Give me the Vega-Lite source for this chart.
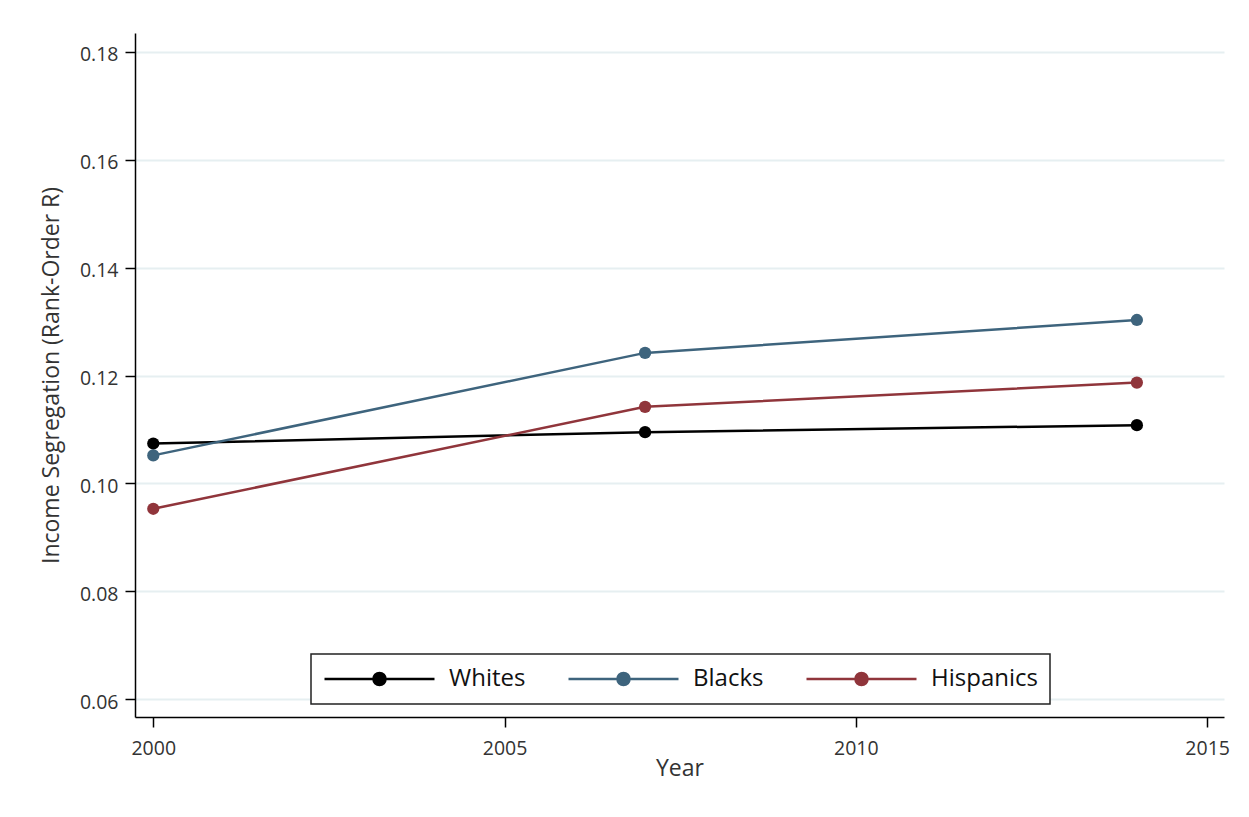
{
  "$schema": "https://vega.github.io/schema/vega-lite/v6.json",
  "width": 1089,
  "height": 684,
  "autosize": "none",
  "padding": {"left": 135, "top": 33, "right": 25, "bottom": 100},
  "background": "white",
  "config": {"font": "Open Sans", "view": {"stroke": null}},
  "data": {
    "values": [
      {"year": 2000, "group": "Whites", "value": 0.1074},
      {"year": 2007, "group": "Whites", "value": 0.1095},
      {"year": 2014, "group": "Whites", "value": 0.1108},
      {"year": 2000, "group": "Blacks", "value": 0.1052},
      {"year": 2007, "group": "Blacks", "value": 0.1242},
      {"year": 2014, "group": "Blacks", "value": 0.1303},
      {"year": 2000, "group": "Hispanics", "value": 0.0953},
      {"year": 2007, "group": "Hispanics", "value": 0.1142},
      {"year": 2014, "group": "Hispanics", "value": 0.1187}
    ]
  },
  "encoding": {
    "x": {
      "field": "year", "type": "quantitative",
      "scale": {"domain": [1999.74, 2015.24], "nice": false, "zero": false},
      "axis": {
        "values": [2000, 2005, 2010, 2015], "format": "d", "title": "Year", "grid": false,
        "domainColor": "#000", "domainWidth": 1.5, "tickColor": "#000", "tickWidth": 1.5, "tickSize": 10,
        "labelFontSize": 19.5, "labelPadding": 12, "labelColor": "#333", "labelFlush": false,
        "titleFontSize": 23, "titleFontWeight": "normal", "titleColor": "#333", "titlePadding": 0
      }
    },
    "y": {
      "field": "value", "type": "quantitative",
      "scale": {"domain": [0.0567, 0.1835], "nice": false, "zero": false},
      "axis": {
        "values": [0.06, 0.08, 0.1, 0.12, 0.14, 0.16, 0.18], "format": ".2f",
        "title": "Income Segregation (Rank-Order R)",
        "grid": true, "gridColor": "#e6eff1", "gridWidth": 2,
        "domainColor": "#000", "domainWidth": 1.5, "tickColor": "#000", "tickWidth": 1.5, "tickSize": 10,
        "labelFontSize": 19.5, "labelPadding": 7, "labelColor": "#333", "labelOffset": 3, "labelFlush": false,
        "titleFontSize": 23, "titleFontWeight": "normal", "titleColor": "#333", "titlePadding": 16
      }
    },
    "color": {
      "field": "group", "type": "nominal",
      "sort": ["Whites", "Blacks", "Hispanics"],
      "scale": {"domain": ["Whites", "Blacks", "Hispanics"], "range": ["#000000", "#3e647d", "#90353b"]},
      "legend": {
        "title": null,
        "orient": "none",
        "direction": "horizontal",
        "legendX": 176,
        "legendY": 621,
        "padding": 12,
        "fillColor": "white",
        "strokeColor": "#222",
        "symbolType": "M-1,0L1,0M-0.11,0A0.11,0.11,0,1,1,0.11,0A0.11,0.11,0,1,1,-0.11,0Z",
        "symbolSize": 12100,
        "symbolStrokeWidth": 2.5,
        "clipHeight": 26,
        "labelOffset": 13,
        "columnPadding": 41,
        "labelFontSize": 24,
        "labelColor": "#111",
        "encode": {
          "symbols": {"update": {"fill": {"scale": "color", "field": "value"}, "stroke": {"scale": "color", "field": "value"}, "opacity": {"value": 1}}},
          "legend": {"update": {"strokeWidth": {"value": 1.5}}}
        }
      }
    }
  },
  "layer": [
    {"mark": {"type": "line", "strokeWidth": 2.5}},
    {"mark": {"type": "point", "filled": true, "size": 150, "opacity": 1}}
  ]
}
